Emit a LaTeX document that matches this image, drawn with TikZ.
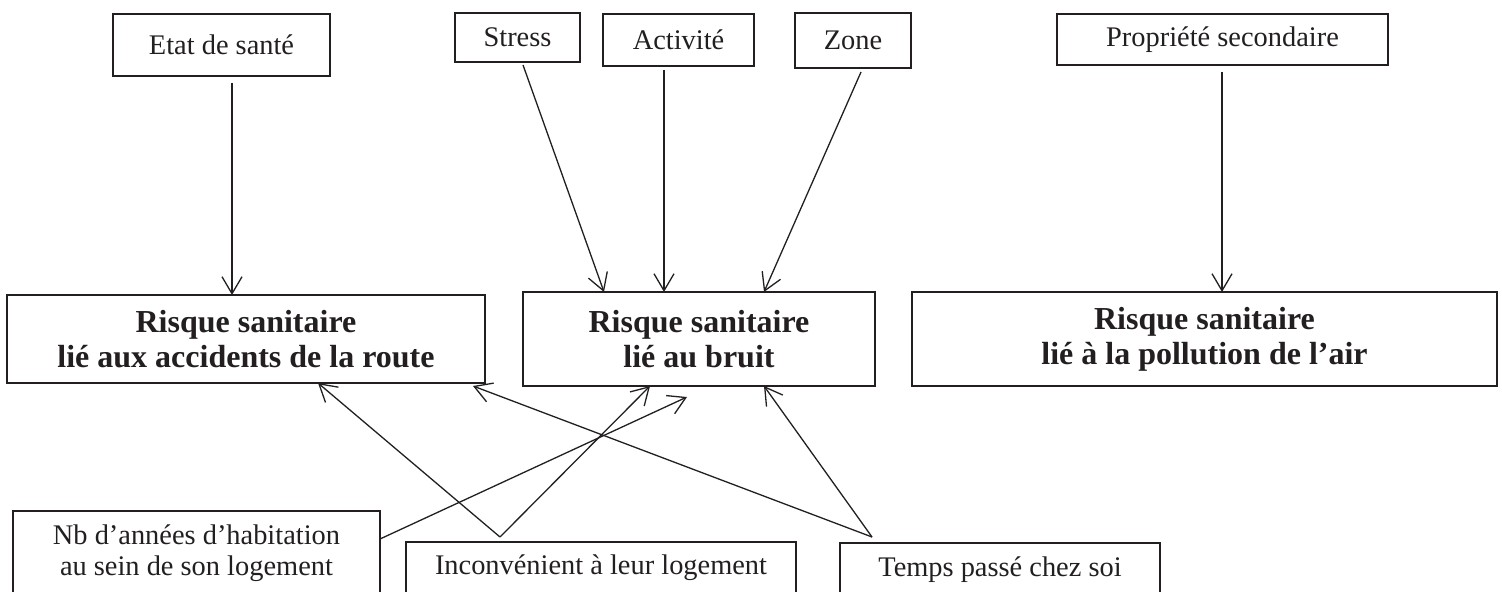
\documentclass[tikz,border=0pt]{standalone}
\usepackage{fontspec}
\setmainfont{Liberation Serif}
\usetikzlibrary{arrows.meta}
\definecolor{ink}{HTML}{231F20}
\begin{document}
\begin{tikzpicture}[x=0.5pt,y=-0.5pt,
  box/.style={draw=ink, line width=0.9pt, inner sep=0pt, text=ink,
    font=\fontsize{14.2}{15.5}\selectfont, align=center},
  bigbox/.style={box, font=\bfseries\fontsize{16}{17.5}\selectfont},
  txt/.style={inner sep=0pt, text=ink, font=\fontsize{14.2}{15.5}\selectfont, align=center},
  arr/.style={draw=ink, line width=0.65pt, -{Straight Barb[length=8.5pt,width=10pt]}}]
\useasboundingbox (0,0) rectangle (1502,592);
\fill[white] (0,0) rectangle (1502,592);

% top boxes
\node[box, minimum width=108.5pt, minimum height=31pt] (etat) at (221.5,45) {Etat de santé};
\node[box, minimum width=62.5pt, minimum height=24.5pt] (stress) at (517.5,37.5) {Stress};
\node[box, minimum width=75.5pt, minimum height=26pt] (activ) at (678.5,40) {Activité};
\node[box, minimum width=58pt, minimum height=27.5pt] (zone) at (853,40.5) {Zone};
\node[box, minimum width=165.5pt, minimum height=25.5pt] (prop) at (1222.5,39.5) {Propriété secondaire};

% risk boxes
\node[bigbox, minimum width=239pt, minimum height=44pt] (route) at (246,339) {Risque sanitaire\\lié aux accidents de la route};
\node[bigbox, minimum width=176pt, minimum height=47pt] (bruit) at (699,339) {Risque sanitaire\\lié au bruit};
\node[bigbox, minimum width=292.5pt, minimum height=47pt] (pollu) at (1204.5,339) {Risque sanitaire\\lié à la pollution de l’air};

% bottom boxes (cut by the page edge)
\node[box, minimum width=183.5pt, minimum height=60pt, anchor=north] (nb) at (196.5,510) {};
\node[txt] (nbt) at (196.5,553) {Nb d’années d’habitation\\au sein de son logement};
\node[box, minimum width=195pt, minimum height=40pt, anchor=north] (inc) at (601,541) {};
\node[txt] (inct) at (601,568) {Inconvénient à leur logement};
\node[box, minimum width=160pt, minimum height=40pt, anchor=north] (temps) at (1000,542) {};
\node[txt] (tempst) at (1000,570) {Temps passé chez soi};

% connector end points
\coordinate (etatS) at (232,83);   \coordinate (routeN) at (232,295);
\coordinate (stressS) at (523,65); \coordinate (bruitN1) at (604,292);
\coordinate (activS) at (664,70);  \coordinate (bruitN2) at (664,292);
\coordinate (zoneS) at (861,72);   \coordinate (bruitN3) at (764,292);
\coordinate (propS) at (1222,72);  \coordinate (polluN) at (1222,292);
\coordinate (incN) at (500,537);
\coordinate (routeS1) at (318,383);
\coordinate (bruitS1) at (650,386);
\coordinate (nbE) at (380,539);
\coordinate (bruitS2) at (687,397);
\coordinate (tempsN) at (872,537);
\coordinate (routeS2) at (473,386);
\coordinate (bruitS3) at (764,386);

\draw[arr] (etatS) -- (routeN);
\draw[arr] (stressS) -- (bruitN1);
\draw[arr] (activS) -- (bruitN2);
\draw[arr] (zoneS) -- (bruitN3);
\draw[arr] (propS) -- (polluN);
\draw[arr] (incN) -- (routeS1);
\draw[arr] (incN) -- (bruitS1);
\draw[arr] (nbE) -- (bruitS2);
\draw[arr] (tempsN) -- (routeS2);
\draw[arr] (tempsN) -- (bruitS3);
\end{tikzpicture}
\end{document}
